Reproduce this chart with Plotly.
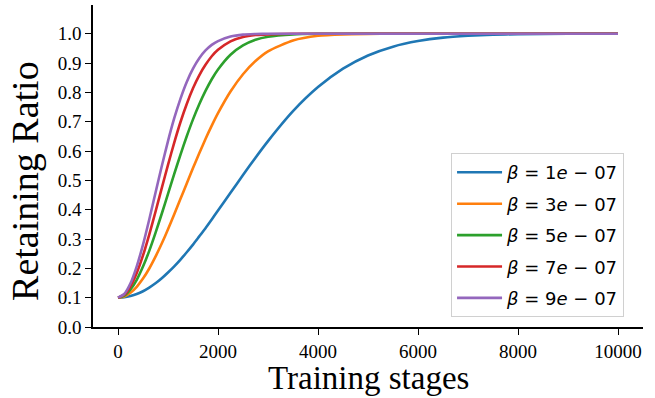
import plotly.graph_objects as go

stages = [0, 125, 250, 375, 500, 625, 750, 875, 1000, 1125, 1250, 1375, 1500, 1625,
          1750, 1875, 2000, 2250, 2500, 2750, 3000, 3500, 4000, 4500, 5000, 5500,
          6000, 6500, 7000, 7500, 8000, 9000, 10000]

ratio_b1 = [0.100, 0.1014, 0.106, 0.1126, 0.122, 0.1345, 0.149, 0.1663, 0.186, 0.2070,
            0.230, 0.2550, 0.281, 0.3089, 0.337, 0.3668, 0.397, 0.4575, 0.518, 0.5775,
            0.634, 0.736, 0.818, 0.881, 0.926, 0.956, 0.975, 0.9868, 0.993, 0.9968,
            0.9985, 0.9998, 1.000]
ratio_b3 = [0.100, 0.1042, 0.117, 0.1372, 0.165, 0.1995, 0.240, 0.2847, 0.333, 0.3843,
            0.437, 0.4896, 0.542, 0.5924, 0.641, 0.6865, 0.729, 0.8029, 0.862, 0.9069,
            0.940, 0.977, 0.993, 0.998, 0.9995, 1.000, 1.000, 1.000, 1.000, 1.000,
            1.000, 1.000, 1.000]
ratio_b5 = [0.100, 0.1070, 0.128, 0.1611, 0.206, 0.2597, 0.321, 0.3862, 0.454, 0.5220,
            0.588, 0.6503, 0.708, 0.7597, 0.805, 0.8448, 0.878, 0.9284, 0.960, 0.9795,
            0.990, 0.998, 1.000, 1.000, 1.000, 1.000, 1.000, 1.000, 1.000, 1.000,
            1.000, 1.000, 1.000]
ratio_b7 = [0.100, 0.1098, 0.139, 0.1843, 0.244, 0.3153, 0.393, 0.4734, 0.553, 0.6289,
            0.699, 0.7604, 0.814, 0.8583, 0.894, 0.9232, 0.945, 0.9740, 0.989, 0.9955,
            0.998, 1.000, 1.000, 1.000, 1.000, 1.000, 1.000, 1.000, 1.000, 1.000,
            1.000, 1.000, 1.000]
ratio_b9 = [0.100, 0.1126, 0.149, 0.2070, 0.281, 0.3668, 0.458, 0.5482, 0.634, 0.7119,
            0.779, 0.8358, 0.881, 0.9164, 0.943, 0.9620, 0.975, 0.9905, 0.997, 0.9990,
            1.000, 1.000, 1.000, 1.000, 1.000, 1.000, 1.000, 1.000, 1.000, 1.000,
            1.000, 1.000, 1.000]

series = [
    ("<i>β</i> = 1<i>e</i> − 07", ratio_b1, "#1f77b4"),
    ("<i>β</i> = 3<i>e</i> − 07", ratio_b3, "#ff7f0e"),
    ("<i>β</i> = 5<i>e</i> − 07", ratio_b5, "#2ca02c"),
    ("<i>β</i> = 7<i>e</i> − 07", ratio_b7, "#d62728"),
    ("<i>β</i> = 9<i>e</i> − 07", ratio_b9, "#9467bd"),
]

y_ticks = [round(0.1 * i, 1) for i in range(11)]
x_ticks = [0, 2000, 4000, 6000, 8000, 10000]

fig = go.Figure()
for i, (name, vals, color) in enumerate(series):
    fig.add_trace(go.Scatter(x=stages, y=vals, mode="lines", name=name,
                             legendgroup=f"g{i}",
                             line=dict(color=color, width=2.6, shape="spline", smoothing=0.6)))

serif = "Liberation Serif"
fig.update_layout(
    width=655, height=398,
    margin=dict(l=93, r=12, t=5, b=71),
    paper_bgcolor="white", plot_bgcolor="white",
    showlegend=True,
    legend=dict(
        x=0.651, y=0.540, xanchor="left", yanchor="top",
        bgcolor="rgba(255,255,255,0.8)", bordercolor="#d0d0d0", borderwidth=1,
        font=dict(family="DejaVu Sans", size=18, color="#000"),
        itemwidth=45, tracegroupgap=5,
    ),
    xaxis=dict(
        range=[-500, 10500], tickvals=x_ticks, ticktext=[str(v) for v in x_ticks],
        showgrid=False, zeroline=False, showline=True, linecolor="black", linewidth=1.5,
        ticks="outside", ticklen=6, tickwidth=1.2, tickcolor="black",
        tickfont=dict(family=serif, size=19, color="#000"),
    ),
    yaxis=dict(
        range=[0, 1.098], tickvals=y_ticks, ticktext=[f"{v:.1f}" for v in y_ticks],
        showgrid=False, zeroline=False, showline=True, linecolor="black", linewidth=1.5,
        ticks="outside", ticklen=6, tickwidth=1.2, tickcolor="black",
        tickfont=dict(family=serif, size=19, color="#000"),
    ),
    annotations=[
        dict(text="Retaining Ratio", textangle=-90, showarrow=False,
             xref="paper", yref="paper", x=-0.124, y=0.453, xanchor="center", yanchor="middle",
             font=dict(family=serif, size=38, color="#000")),
        dict(text="Training stages", showarrow=False,
             xref="paper", yref="paper", x=0.5, y=-0.2205, xanchor="center", yanchor="bottom",
             font=dict(family=serif, size=33, color="#000")),
    ],
)

fig.write_html("out.html")
